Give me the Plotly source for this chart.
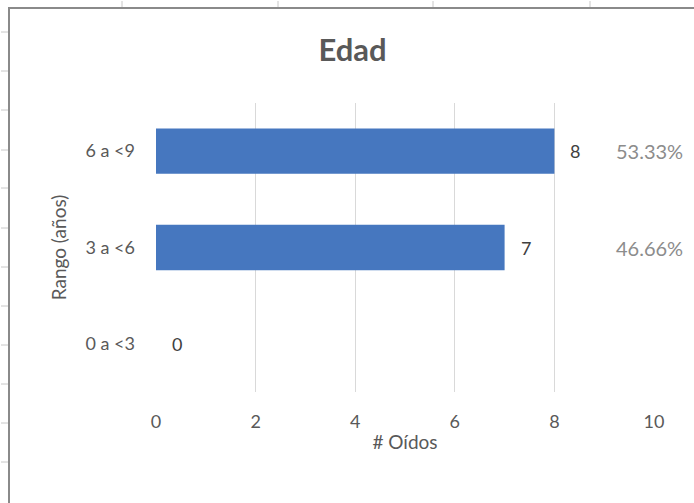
import plotly.graph_objects as go

categories = ["0 a <3", "3 a <6", "6 a <9"]
counts = [0, 7, 8]
pct_labels = ["", "46.66%", "53.33%"]
x_ticks = [0, 2, 4, 6, 8, 10]

title_text = "Edad"
x_title = "# Oídos"
y_title = "Rango (años)"

FONT = "Lato, Carlito, Calibri, sans-serif"
GRAY = "#595959"

fig = go.Figure()
fig.add_trace(go.Bar(
    y=categories, x=counts, orientation="h",
    marker=dict(color="#4677bf", line=dict(width=0)),
    showlegend=False, hoverinfo="skip",
))

# value labels
for c, v in zip(categories, counts):
    fig.add_annotation(x=v, y=c, text=str(v), showarrow=False, xanchor="left",
                       xshift=14, font=dict(family=FONT, size=18, color="#404040"))
# percentage labels
for c, p in zip(categories, pct_labels):
    if p:
        fig.add_annotation(x=9.9, y=c, text=p, showarrow=False, xanchor="center",
                           font=dict(family=FONT, size=20, color="#8c8c8c"))

fig.update_layout(
    width=694, height=503,
    margin=dict(l=156, r=40, t=103, b=111),
    paper_bgcolor="white", plot_bgcolor="white",
    font=dict(family=FONT, color=GRAY),
    title=dict(text="<b>" + title_text + "</b>", x=0.508, xanchor="center", y=0.9,
               yanchor="middle", font=dict(family=FONT, size=31, color=GRAY)),
    bargap=0.53,
    xaxis=dict(range=[0, 10], tickvals=x_ticks, showgrid=True, gridcolor="#d9d9d9",
               gridwidth=1, zeroline=False, showline=False, ticks="",
               ticklabelstandoff=17, tickfont=dict(size=18, color=GRAY),
               title=dict(text=x_title, font=dict(size=19, color=GRAY), standoff=4)),
    yaxis=dict(type="category", categoryorder="array", categoryarray=categories,
               showgrid=False, zeroline=False, showline=False, ticks="",
               ticklabelstandoff=20, tickfont=dict(size=18, color=GRAY),
               title=dict(text=y_title, font=dict(size=19, color=GRAY), standoff=13)),
)

# frame lines and crop ticks in pixel-ish paper coords
W, H = 694, 503
pl, pr, pt, pb = 156, 40, 103, 111
pw, ph = W - pl - pr, H - pt - pb
def px(x):
    return (x - pl) / pw
def py(y):
    return 1 - (y - pt) / ph

shapes = []
shapes.append(dict(type="line", xref="paper", yref="paper", x0=px(9), x1=px(9),
                   y0=py(9), y1=py(503), line=dict(color="#8a8a8a", width=2)))
shapes.append(dict(type="line", xref="paper", yref="paper", x0=px(8), x1=px(694),
                   y0=py(8), y1=py(8), line=dict(color="#8a8a8a", width=2)))
for tx in [122, 278, 433, 590]:
    shapes.append(dict(type="line", xref="paper", yref="paper", x0=px(tx), x1=px(tx),
                       y0=py(1), y1=py(7), line=dict(color="#c8c8c8", width=1)))
for ty in [32, 71, 110, 150, 188, 228, 267, 306, 345, 384, 423, 462]:
    shapes.append(dict(type="line", xref="paper", yref="paper", x0=px(1), x1=px(8),
                       y0=py(ty), y1=py(ty), line=dict(color="#c8c8c8", width=1)))
fig.update_layout(shapes=shapes)

fig.write_html("out.html")
